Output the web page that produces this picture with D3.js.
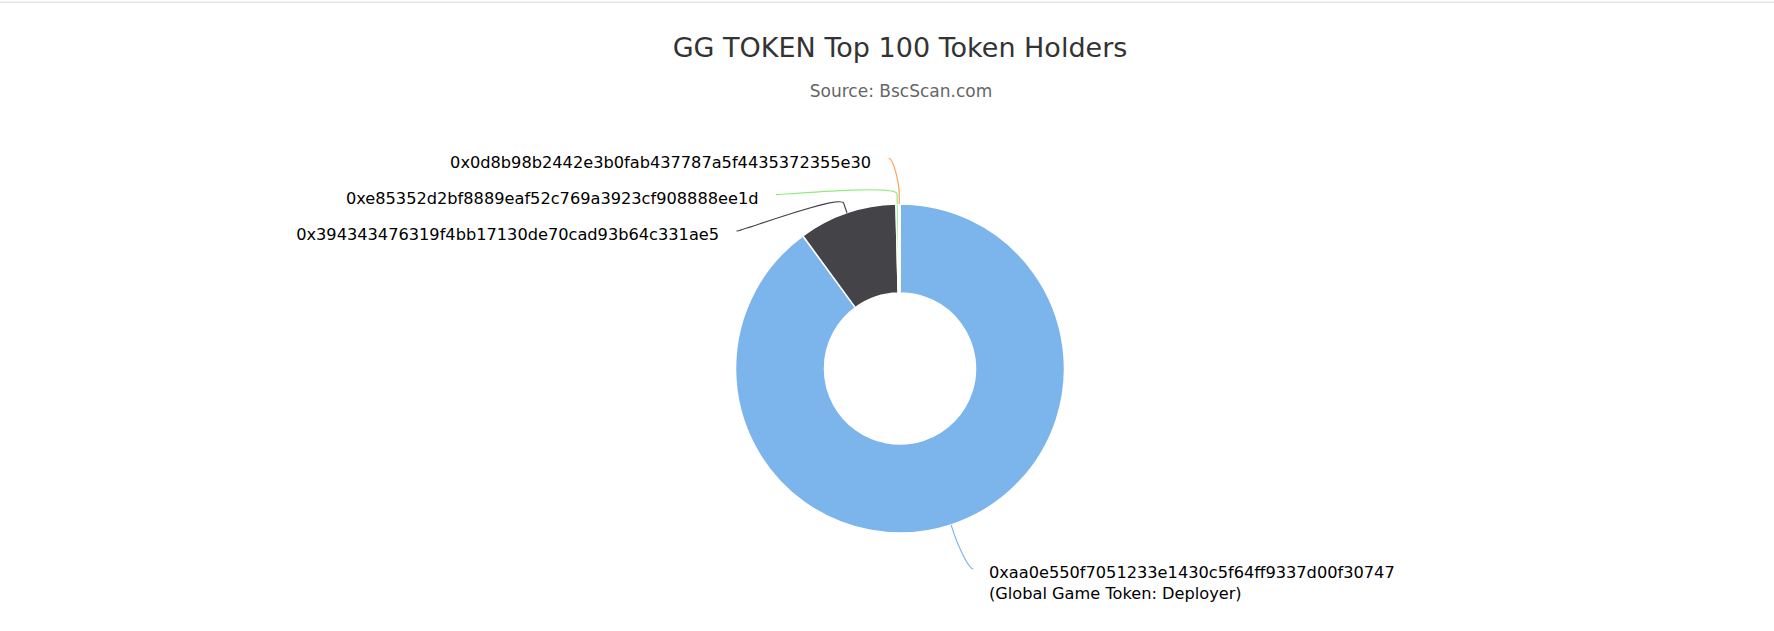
<!DOCTYPE html>
<html>
<head>
<meta charset="utf-8">
<script src="https://cdn.jsdelivr.net/npm/d3@7"></script>
<style>
  body { margin: 0; background: #fff; }
  text { font-family: "DejaVu Sans", Verdana, sans-serif; }
</style>
</head>
<body>
<div id="chart"></div>
<script>
// Top holders, clockwise from 12 o'clock
const addresses = [
  "0xaa0e550f7051233e1430c5f64ff9337d00f30747",
  "0x394343476319f4bb17130de70cad93b64c331ae5",
  "0xe85352d2bf8889eaf52c769a3923cf908888ee1d",
  "0x0d8b98b2442e3b0fab437787a5f4435372355e30",
];
const notes = ["(Global Game Token: Deployer)", "", "", ""];
const shares = [89.94, 9.67, 0.25, 0.14];
const colors = ["#7cb5ec", "#434348", "#90ed7d", "#f7a35c"];

const titleText = "GG TOKEN Top 100 Token Holders";
const subtitleText = "Source: BscScan.com";

const width = 1774;
const height = 631;
const cx = 900;
const cy = 368.5;
const outerR = 164.5;
const innerR = 75.5;
const labelR = outerR + 49; // where connectors end
const labelTop = 158.3;
const labelBottom = 569;
const labelStep = 36.4;

const svg = d3
  .select("#chart")
  .append("svg")
  .attr("width", width)
  .attr("height", height);

// thin rule at the very top of the page
svg
  .append("rect")
  .attr("x", 0)
  .attr("y", 1.5)
  .attr("width", width)
  .attr("height", 1.5)
  .attr("fill", "#e6e6ef");

svg
  .append("text")
  .attr("x", cx)
  .attr("y", 56.5)
  .attr("text-anchor", "middle")
  .style("font-size", "27px")
  .style("fill", "#333333")
  .text(titleText);

svg
  .append("text")
  .attr("x", cx + 1)
  .attr("y", 97)
  .attr("text-anchor", "middle")
  .style("font-size", "17px")
  .style("fill", "#666666")
  .text(subtitleText);

const pie = d3
  .pie()
  .sort(null)
  .value((d) => d)
  .startAngle(0)
  .endAngle(2 * Math.PI);

const arcs = pie(shares);

const arc = d3.arc().innerRadius(innerR).outerRadius(outerR);

const chart = svg.append("g").attr("transform", "translate(" + cx + "," + cy + ")");

chart
  .selectAll("path.slice")
  .data(arcs)
  .join("path")
  .attr("class", "slice")
  .attr("d", arc)
  .attr("fill", (d, i) => colors[i])
  .attr("stroke", "#ffffff")
  .attr("stroke-width", 1.5)
  .attr("stroke-linejoin", "round");

// label layout, roughly how highcharts does it
const labels = arcs.map(function (d, i) {
  const mid = (d.startAngle + d.endAngle) / 2;
  return {
    i: i,
    mid: mid,
    left: mid > Math.PI,
    naturalY: cy - labelR * Math.cos(mid),
  };
});

function getX(y, left) {
  const dy = Math.max(-labelR, Math.min(labelR, y - cy));
  const dx = Math.sqrt(labelR * labelR - dy * dy);
  return cx + (left ? -dx : dx);
}

[true, false].forEach(function (side) {
  const group = labels.filter((l) => l.left === side).sort((a, b) => a.naturalY - b.naturalY);
  let prev = -Infinity;
  group.forEach(function (l) {
    let y = Math.max(l.naturalY, labelTop, prev + labelStep);
    y = Math.min(y, Math.max(labelBottom, prev + labelStep));
    l.y = y;
    // pinned to the top edge -> x taken a bit above the anchor
    l.x = getX(y === labelTop && y > l.naturalY ? labelTop - 3 : y, side);
    prev = y;
  });
});

const connectors = svg.append("g");
labels.forEach(function (l) {
  const s = Math.sin(l.mid);
  const c = -Math.cos(l.mid);
  const touch = [cx + outerR * s, cy + outerR * c];
  const brk = [cx + (outerR + 10) * s, cy + (outerR + 10) * c];
  const p = d3.path();
  p.moveTo(l.x, l.y);
  p.bezierCurveTo(
    l.x + (l.left ? 5 : -5), l.y,
    2 * brk[0] - touch[0], 2 * brk[1] - touch[1],
    brk[0], brk[1]
  );
  p.lineTo(touch[0], touch[1]);
  connectors
    .append("path")
    .attr("d", p.toString())
    .attr("fill", "none")
    .attr("stroke", colors[l.i])
    .attr("stroke-width", 1.2);
});

const texts = svg.append("g");
labels.forEach(function (l) {
  const tx = l.left ? l.x - 17.5 : l.x + 15.6;
  const t = texts
    .append("text")
    .attr("x", tx)
    .attr("y", l.y + (l.left ? 9.3 : 8.6))
    .attr("text-anchor", l.left ? "end" : "start")
    .style("font-size", "16.2px")
    .style("fill", "#000000");
  t.append("tspan").text(addresses[l.i]);
  if (notes[l.i]) {
    t.append("tspan").attr("x", tx).attr("dy", 21.2).text(notes[l.i]);
  }
});
</script>
</body>
</html>
